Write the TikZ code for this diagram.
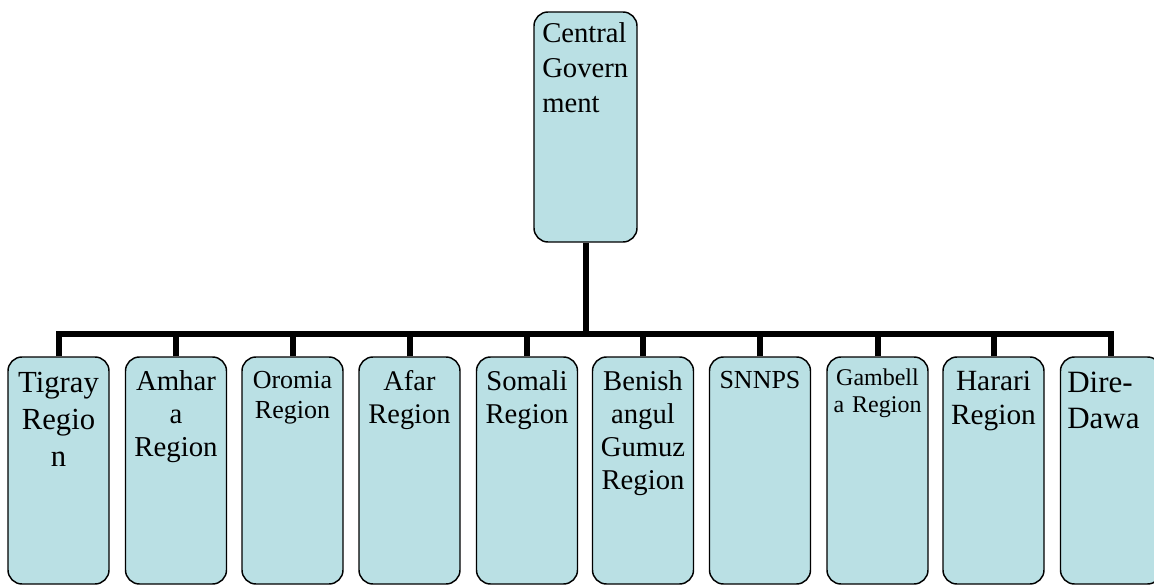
\documentclass[tikz,border=0pt]{standalone}
\usepackage{fontspec}
\setmainfont{Liberation Serif}
\definecolor{boxfill}{RGB}{186,224,228}
\tikzset{
  orgbox/.style={draw=black, line width=1.1pt, fill=boxfill, rounded corners=10.5pt, minimum width=75.75pt, minimum height=170.25pt, inner sep=0pt},
  topbox/.style={orgbox, minimum width=77.25pt, minimum height=172.5pt},
  lbl/.style={anchor=base, inner sep=0pt, text width=75pt, align=center},
  lbll/.style={anchor=base west, inner sep=0pt, text width=72pt, align=left},
  link/.style={draw=black, line width=4.5pt}
}
\newcommand{\fs}[2]{\fontsize{#1}{#2}\selectfont}
\begin{document}
\begin{tikzpicture}[x=0.75pt, y=-0.75pt]
\useasboundingbox (0,0) rectangle (1154,585);
\clip (0,0) rectangle (1154,585);
% top box
\node[topbox] (cg) at (585.5,127) {};
\node[lbll, font=\fs{21.5pt}{26.25pt}] (cgt) at (542,43) {Central\\Govern\\ment};
% bottom boxes
\node[orgbox] (b1) at (58.5,470.5) {};
\node[orgbox] (b2) at (176,470.5) {};
\node[orgbox] (b3) at (292.5,470.5) {};
\node[orgbox] (b4) at (409.5,470.5) {};
\node[orgbox] (b5) at (527,470.5) {};
\node[orgbox] (b6) at (643,470.5) {};
\node[orgbox] (b7) at (760,470.5) {};
\node[orgbox] (b8) at (877.5,470.5) {};
\node[orgbox] (b9) at (993.5,470.5) {};
\node[orgbox] (b10) at (1111,470.5) {};
% labels
\node[lbl, font=\fs{23pt}{27.75pt}] (t1) at (58.5,392) {Tigray\\Regio\\n};
\node[lbl, font=\fs{21.6pt}{24.75pt}] (t2) at (176,390) {Amhar\\a\\Region};
\node[lbl, font=\fs{19.5pt}{22.5pt}] (t3) at (292.5,388) {Oromia\\Region};
\node[lbl, font=\fs{21.3pt}{24.75pt}] (t4) at (409.5,390) {Afar\\Region};
\node[lbl, font=\fs{21.5pt}{24.75pt}] (t5) at (527,390) {Somali\\Region};
\node[lbl, font=\fs{21.5pt}{24.75pt}] (t6) at (643,390) {Benish\\angul\\Gumuz\\Region};
\node[lbl, font=\fs{19.5pt}{22.5pt}] (t7) at (760,388) {SNNPS};
\node[lbl, font=\fs{18pt}{20.25pt}] (t8) at (877.5,385) {Gambell\\a Region};
\node[lbl, font=\fs{22pt}{25.5pt}] (t9) at (993.5,390) {Harari\\Region};
\node[lbll, font=\fs{23.25pt}{27pt}] (t10) at (1067,392) {Dire-\\Dawa};
% connectors
\coordinate (bar) at (585.5,334);
\draw[link] (cg.south) -- (bar);
\draw[link] (b1.north) |- (bar);
\draw[link] (b10.north) |- (bar);
\foreach \i in {2,...,9} {
  \draw[link] (b\i.north) -- (b\i.north |- bar);
}
\end{tikzpicture}
\end{document}
